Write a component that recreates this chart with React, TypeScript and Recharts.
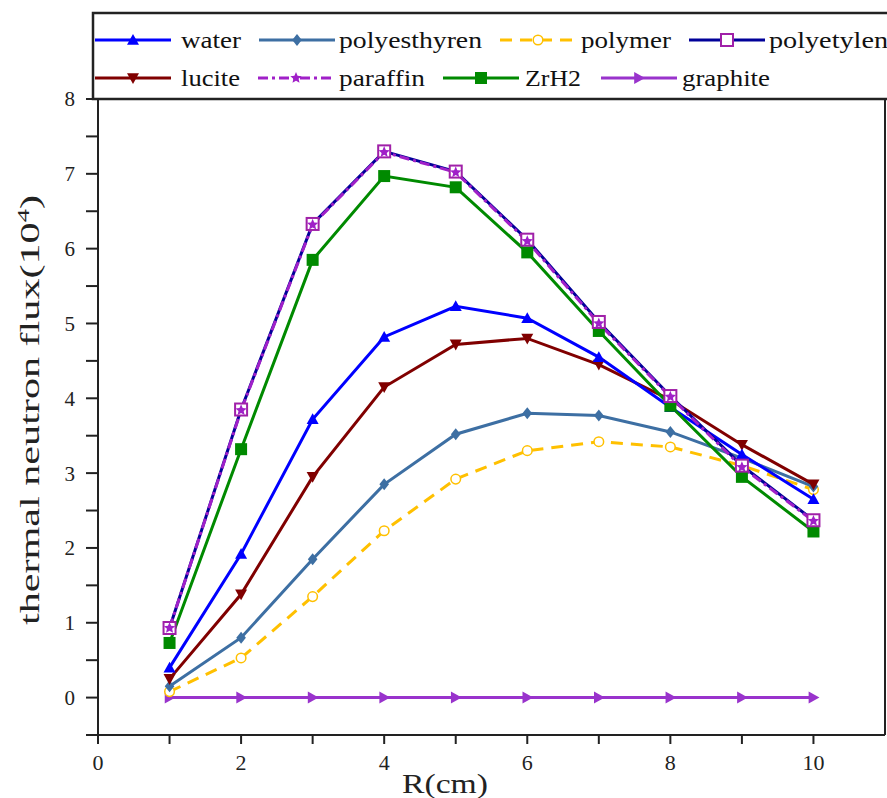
import { LineChart, Line, XAxis, YAxis } from 'recharts';

const radius = [1, 2, 3, 4, 5, 6, 7, 8, 9, 10];
const water = [0.4, 1.92, 3.72, 4.82, 5.23, 5.07, 4.55, 3.88, 3.25, 2.65];
const polyesthyren = [0.15, 0.8, 1.85, 2.85, 3.52, 3.8, 3.77, 3.55, 3.2, 2.82];
const polymer = [0.08, 0.53, 1.35, 2.23, 2.92, 3.3, 3.42, 3.35, 3.1, 2.78];
const polyetylen = [0.93, 3.85, 6.33, 7.3, 7.03, 6.12, 5.02, 4.03, 3.1, 2.37];
const lucite = [0.25, 1.38, 2.95, 4.15, 4.72, 4.8, 4.45, 3.98, 3.38, 2.85];
const paraffin = [0.93, 3.84, 6.32, 7.29, 7.02, 6.1, 5.0, 4.02, 3.08, 2.36];
const zrh2 = [0.73, 3.32, 5.85, 6.97, 6.82, 5.95, 4.9, 3.9, 2.95, 2.22];
const graphite = [0, 0, 0, 0, 0, 0, 0, 0, 0, 0];

const xTicks = [0, 1, 2, 3, 4, 5, 6, 7, 8, 9, 10];
const yTicks = [-0.5, 0, 0.5, 1, 1.5, 2, 2.5, 3, 3.5, 4, 4.5, 5, 5.5, 6, 6.5, 7, 7.5, 8];
const rightTicks = [1, 2, 3, 4, 5, 6, 7, 8, 9];

const rows = radius.map((r, i) => ({
  r,
  water: water[i],
  polyesthyren: polyesthyren[i],
  polymer: polymer[i],
  polyetylen: polyetylen[i],
  lucite: lucite[i],
  paraffin: paraffin[i],
  ZrH2: zrh2[i],
  graphite: graphite[i],
}));

type Shape = 'triUp' | 'triDown' | 'triRight' | 'diamond' | 'circle' | 'openSquare' | 'square' | 'star';

interface Series {
  key: string;
  color: string;
  mark: string;
  shape: Shape;
  dash?: string;
}

const series: Record<string, Series> = {
  water: { key: 'water', color: '#0000ff', mark: '#0000ff', shape: 'triUp' },
  polyesthyren: { key: 'polyesthyren', color: '#3d6fa3', mark: '#3d6fa3', shape: 'diamond' },
  polymer: { key: 'polymer', color: '#ffc000', mark: '#ffc000', shape: 'circle', dash: '12 8' },
  polyetylen: { key: 'polyetylen', color: '#000099', mark: '#a020a8', shape: 'openSquare' },
  lucite: { key: 'lucite', color: '#800000', mark: '#800000', shape: 'triDown' },
  paraffin: { key: 'paraffin', color: '#a020c8', mark: '#a020c8', shape: 'star', dash: '10 4 3 4' },
  ZrH2: { key: 'ZrH2', color: '#008a00', mark: '#008a00', shape: 'square' },
  graphite: { key: 'graphite', color: '#9933cc', mark: '#9933cc', shape: 'triRight' },
};

// draw order (last on top)
const drawOrder = ['graphite', 'polymer', 'polyesthyren', 'lucite', 'water', 'ZrH2', 'polyetylen', 'paraffin'];

function Marker({ shape, x, y, color, s = 6 }: { shape: Shape; x: number; y: number; color: string; s?: number }) {
  switch (shape) {
    case 'triUp':
      return <polygon points={`${x},${y - s} ${x - s},${y + s * 0.8} ${x + s},${y + s * 0.8}`} fill={color} />;
    case 'triDown':
      return <polygon points={`${x},${y + s} ${x - s},${y - s * 0.8} ${x + s},${y - s * 0.8}`} fill={color} />;
    case 'triRight':
      return <polygon points={`${x + s},${y} ${x - s * 0.8},${y - s} ${x - s * 0.8},${y + s}`} fill={color} />;
    case 'diamond':
      return <polygon points={`${x},${y - s} ${x + s * 0.8},${y} ${x},${y + s} ${x - s * 0.8},${y}`} fill={color} />;
    case 'circle':
      return <circle cx={x} cy={y} r={s * 0.8} fill="#fff" stroke={color} strokeWidth={1.5} />;
    case 'openSquare':
      return <rect x={x - s} y={y - s} width={s * 2} height={s * 2} fill="#fff" stroke={color} strokeWidth={2} />;
    case 'square':
      return <rect x={x - s} y={y - s} width={s * 2} height={s * 2} fill={color} />;
    case 'star': {
      const pts: string[] = [];
      for (let k = 0; k < 10; k++) {
        const rr = k % 2 === 0 ? s : s * 0.45;
        const a = -Math.PI / 2 + (k * Math.PI) / 5;
        pts.push(`${x + rr * Math.cos(a)},${y + rr * Math.sin(a)}`);
      }
      return <polygon points={pts.join(' ')} fill={color} />;
    }
  }
  return null;
}

const legendRows = [
  [
    { name: 'water', line: 95, text: 181, width: 60 },
    { name: 'polyesthyren', line: 259, text: 339, width: 143 },
    { name: 'polymer', line: 500, text: 581, width: 90 },
    { name: 'polyetylen', line: 689, text: 769, width: 119 },
  ],
  [
    { name: 'lucite', line: 95, text: 181, width: 59 },
    { name: 'paraffin', line: 258, text: 339, width: 86 },
    { name: 'ZrH2', line: 443, text: 525, width: 56 },
    { name: 'graphite', line: 601, text: 682, width: 88 },
  ],
];

const serif = 'Liberation Serif, serif';
const axisColor = '#222222';

export default function App() {
  return (
    <div style={{ position: 'absolute', left: 0, top: 0, width: 887, height: 798, background: '#fff' }}>
      <LineChart width={887} height={798} data={rows} margin={{ top: 99, right: 0, bottom: 23, left: 38 }}>
        <XAxis
          type="number"
          dataKey="r"
          domain={[0, 11]}
          ticks={xTicks}
          interval={0}
          height={40}
          tickSize={9}
          tickMargin={10}
          tickFormatter={(v: number) => (v % 2 === 0 ? String(v) : '')}
          stroke={axisColor}
          axisLine={{ stroke: axisColor, strokeWidth: 2 }}
          tickLine={{ stroke: axisColor, strokeWidth: 2 }}
          tick={{ fill: '#222', fontSize: 22, fontFamily: serif }}
        />
        <YAxis
          type="number"
          domain={[-0.5, 8]}
          ticks={yTicks}
          interval={0}
          width={60}
          tickSize={12}
          tickMargin={11}
          tickFormatter={(v: number) => (Number.isInteger(v) ? String(v) : '')}
          stroke={axisColor}
          axisLine={{ stroke: axisColor, strokeWidth: 2 }}
          tickLine={{ stroke: axisColor, strokeWidth: 2 }}
          tick={{ fill: '#222', fontSize: 21, fontFamily: serif }}
        />
        <YAxis
          yAxisId="right"
          orientation="right"
          type="number"
          domain={[0, 10]}
          ticks={rightTicks}
          interval={0}
          width={2}
          tickSize={6}
          tick={false}
          stroke={axisColor}
          axisLine={{ stroke: axisColor, strokeWidth: 2 }}
          tickLine={{ stroke: axisColor, strokeWidth: 2 }}
        />
        {drawOrder.map((name) => {
          const s = series[name];
          return (
            <Line
              key={name}
              dataKey={s.key}
              stroke={s.color}
              strokeWidth={3}
              strokeDasharray={s.dash}
              isAnimationActive={false}
              dot={(p: any) => (
                <Marker key={`${name}-${p.index}`} shape={s.shape} x={p.cx} y={p.cy} color={s.mark} />
              )}
              activeDot={false}
            />
          );
        })}
      </LineChart>
      <svg width={887} height={798} style={{ position: 'absolute', left: 0, top: 0, pointerEvents: 'none' }}>
        <rect x={93} y={13} width={810} height={86} fill="#fff" stroke={axisColor} strokeWidth={2.5} />
        {legendRows.map((row, ri) =>
          row.map((it) => {
            const s = series[it.name];
            const cy = ri === 0 ? 40 : 78;
            return (
              <g key={it.name}>
                <line x1={it.line} x2={it.line + 76} y1={cy} y2={cy} stroke={s.color} strokeWidth={3} strokeDasharray={s.dash} />
                <Marker shape={s.shape} x={it.line + 38} y={cy} color={s.mark} />
                <text
                  x={it.text}
                  y={cy + 8}
                  fontFamily={serif}
                  fontSize={24}
                  fill="#111"
                  textLength={it.width}
                  lengthAdjust="spacingAndGlyphs"
                >
                  {it.name}
                </text>
              </g>
            );
          })
        )}
        <text
          transform="translate(39,410) rotate(-90)"
          textAnchor="middle"
          fontFamily={serif}
          fontSize={27}
          fill="#222"
          textLength={430}
          lengthAdjust="spacingAndGlyphs"
        >
          thermal neutron flux(10
          <tspan dy={-10} fontSize={17}>4</tspan>
          <tspan dy={10}>)</tspan>
        </text>
        <text
          x={445}
          y={793}
          textAnchor="middle"
          fontFamily={serif}
          fontSize={28}
          fill="#222"
          textLength={86}
          lengthAdjust="spacingAndGlyphs"
        >
          R(cm)
        </text>
      </svg>
    </div>
  );
}
